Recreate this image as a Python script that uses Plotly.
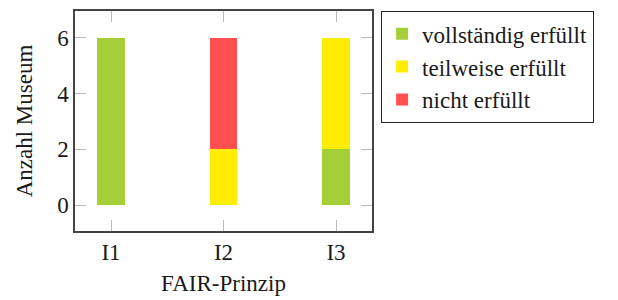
import plotly.graph_objects as go

categories = ["I1", "I2", "I3"]
series_names = ["vollständig erfüllt", "teilweise erfüllt", "nicht erfüllt"]
vollstaendig = [6, 0, 2]
teilweise = [0, 2, 4]
nicht = [0, 4, 0]
colors = ["#a6ce39", "#ffed00", "#ff4f4f"]

FONT = "Liberation Serif"
SIZE = 23
TXT = "#1a1a1a"

fig = go.Figure()
for i, (name, vals, col) in enumerate(zip(series_names, [vollstaendig, teilweise, nicht], colors)):
    fig.add_trace(go.Bar(x=categories, y=vals, name=name, legendgroup=f"g{i}",
                         marker=dict(color=col, line=dict(width=0)), width=0.246))

fig.update_layout(
    barmode="stack",
    width=618, height=300,
    margin=dict(l=75, r=246, t=11, b=69, autoexpand=False),
    plot_bgcolor="white", paper_bgcolor="white",
    font=dict(family=FONT, size=SIZE, color=TXT),
    showlegend=True,
    legend=dict(x=1.03, y=1.0, xanchor="left", yanchor="top",
                bordercolor="#222", borderwidth=1.2,
                font=dict(family=FONT, size=SIZE, color=TXT),
                traceorder="grouped", tracegroupgap=0, itemclick=False,
                itemwidth=30, entrywidth=190),
    xaxis=dict(range=[-0.32, 2.32], showline=True, linecolor="#444", linewidth=1.5, mirror="ticks",
               ticks="inside", ticklen=11, tickcolor="#bbbbbb", tickwidth=1.2,
               showgrid=False, zeroline=False,
               tickfont=dict(family=FONT, size=SIZE, color=TXT),
               title=dict(text="FAIR-Prinzip", standoff=11, font=dict(family=FONT, size=SIZE, color=TXT))),
    yaxis=dict(range=[-0.93, 6.96], showline=True, linecolor="#444", linewidth=1.5, mirror="ticks",
               ticks="inside", ticklen=11, tickcolor="#bbbbbb", tickwidth=1.2,
               tickvals=[0, 2, 4, 6], showgrid=False, zeroline=False,
               tickfont=dict(family=FONT, size=SIZE, color=TXT),
               title=dict(text="Anzahl Museum", standoff=18, font=dict(family=FONT, size=SIZE, color=TXT))),
)
fig.write_html("out.html", config={"displayModeBar": False},
               post_script="document.body.style.margin='0';document.body.style.padding='0';")
